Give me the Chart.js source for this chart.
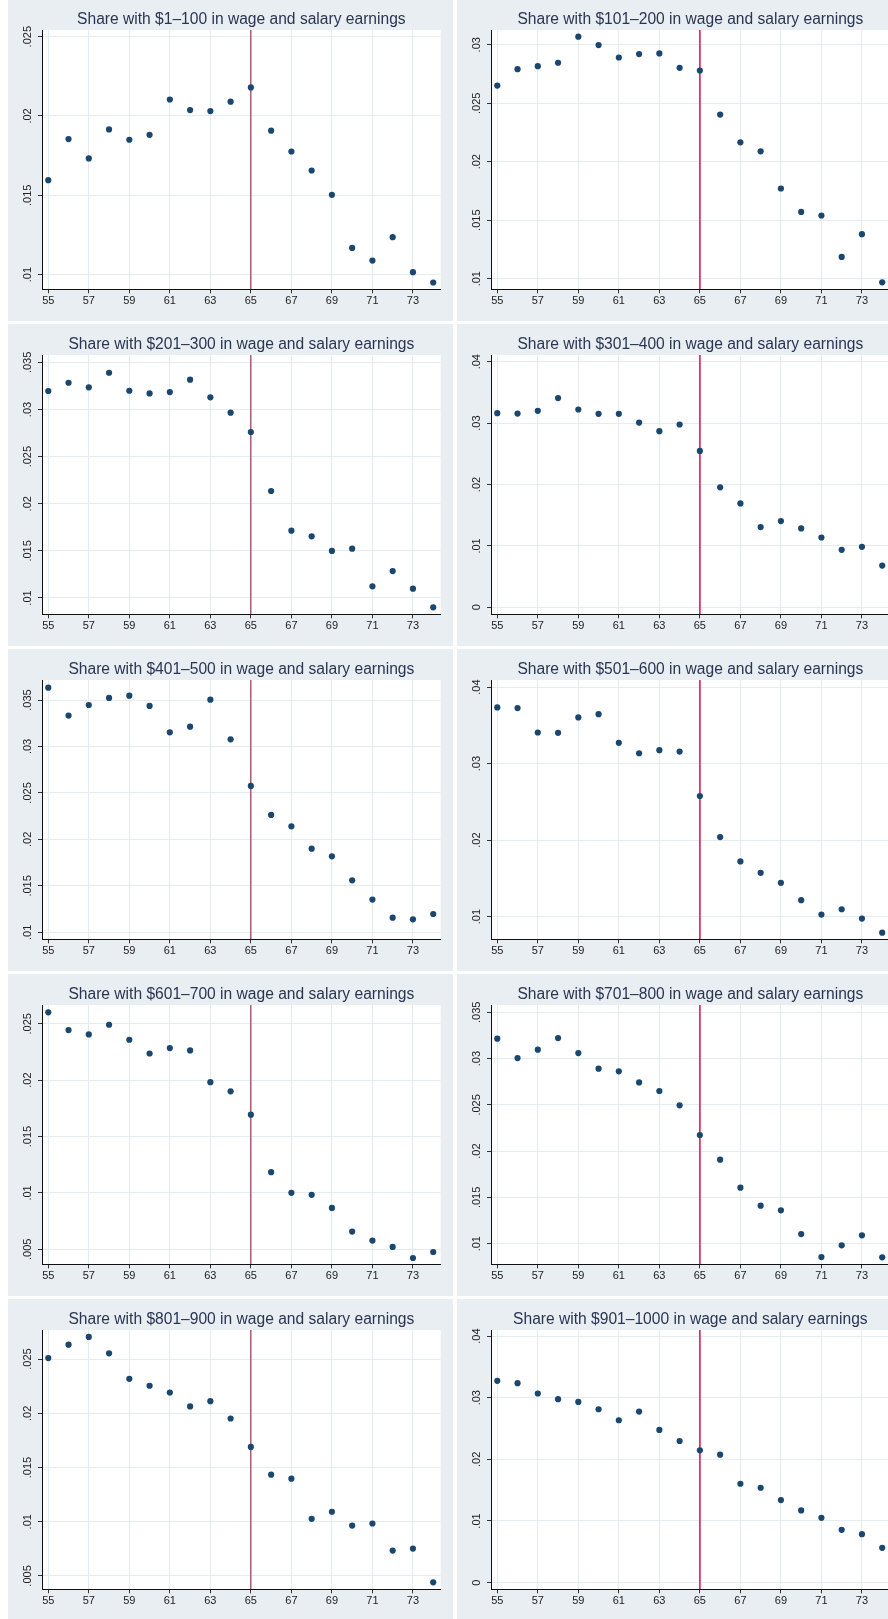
<!DOCTYPE html>
<html>
<head>
<meta charset="utf-8">
<script src="https://cdn.jsdelivr.net/npm/chart.js@4.4.1/dist/chart.umd.min.js"></script>
<style>
  html, body { margin: 0; padding: 0; background: #fff; overflow: hidden; width: 888px; height: 1619px; }
  .panel { position: absolute; width: 445px; height: 322px; background: #e8eef1; }
  .panel canvas { display: block; }
</style>
</head>
<body>
<script>
// Ages on the x axis and the odd-year tick labels
const ages = [55, 56, 57, 58, 59, 60, 61, 62, 63, 64, 65, 66, 67, 68, 69, 70, 71, 72, 73, 74];
const ageTicks = [55, 57, 59, 61, 63, 65, 67, 69, 71, 73];
const retirementAge = 65;

// Share of people in each earnings bin, by age
const share1to100   = [0.01595, 0.01854, 0.01732, 0.01915, 0.01850, 0.01881, 0.02104, 0.02037, 0.02031, 0.02090, 0.02180, 0.01907, 0.01776, 0.01656, 0.01503, 0.01168, 0.01088, 0.01236, 0.01015, 0.00950];
const share101to200 = [0.02651, 0.02791, 0.02817, 0.02846, 0.03069, 0.02997, 0.02891, 0.02920, 0.02926, 0.02803, 0.02780, 0.02403, 0.02166, 0.02089, 0.01771, 0.01571, 0.01540, 0.01186, 0.01380, 0.00969];
const share201to300 = [0.03196, 0.03284, 0.03235, 0.03390, 0.03199, 0.03171, 0.03185, 0.03316, 0.03129, 0.02966, 0.02761, 0.02135, 0.01714, 0.01654, 0.01499, 0.01523, 0.01124, 0.01286, 0.01099, 0.00901];
const share301to400 = [0.03162, 0.03156, 0.03200, 0.03407, 0.03222, 0.03151, 0.03151, 0.03009, 0.02868, 0.02977, 0.02547, 0.01954, 0.01692, 0.01306, 0.01404, 0.01284, 0.01137, 0.00936, 0.00985, 0.00680];
const share401to500 = [0.03633, 0.03332, 0.03446, 0.03522, 0.03547, 0.03436, 0.03152, 0.03213, 0.03504, 0.03077, 0.02575, 0.02263, 0.02141, 0.01900, 0.01818, 0.01560, 0.01352, 0.01158, 0.01140, 0.01197];
const share501to600 = [0.03734, 0.03725, 0.03406, 0.03402, 0.03603, 0.03646, 0.03271, 0.03135, 0.03175, 0.03157, 0.02576, 0.02039, 0.01721, 0.01572, 0.01441, 0.01214, 0.01026, 0.01096, 0.00974, 0.00790];
const share601to700 = [0.02601, 0.02444, 0.02405, 0.02491, 0.02358, 0.02236, 0.02284, 0.02263, 0.01982, 0.01901, 0.01694, 0.01184, 0.01001, 0.00983, 0.00867, 0.00657, 0.00577, 0.00521, 0.00423, 0.00476];
const share701to800 = [0.03215, 0.03006, 0.03096, 0.03222, 0.03060, 0.02891, 0.02862, 0.02743, 0.02650, 0.02495, 0.02174, 0.01908, 0.01605, 0.01411, 0.01360, 0.01104, 0.00856, 0.00982, 0.01090, 0.00852];
const share801to900 = [0.02509, 0.02633, 0.02704, 0.02553, 0.02318, 0.02254, 0.02192, 0.02063, 0.02112, 0.01952, 0.01690, 0.01434, 0.01397, 0.01027, 0.01092, 0.00965, 0.00984, 0.00734, 0.00753, 0.00441];
const share901to1000 = [0.03274, 0.03236, 0.03068, 0.02976, 0.02932, 0.02813, 0.02634, 0.02775, 0.02477, 0.02298, 0.02146, 0.02076, 0.01604, 0.01539, 0.01339, 0.01171, 0.01051, 0.00856, 0.00786, 0.00564];

const panelTitles = [
  'Share with $1–100 in wage and salary earnings',
  'Share with $101–200 in wage and salary earnings',
  'Share with $201–300 in wage and salary earnings',
  'Share with $301–400 in wage and salary earnings',
  'Share with $401–500 in wage and salary earnings',
  'Share with $501–600 in wage and salary earnings',
  'Share with $601–700 in wage and salary earnings',
  'Share with $701–800 in wage and salary earnings',
  'Share with $801–900 in wage and salary earnings',
  'Share with $901–1000 in wage and salary earnings'
];

const panelSeries = [share1to100, share101to200, share201to300, share301to400, share401to500,
                     share501to600, share601to700, share701to800, share801to900, share901to1000];

// y tick labels per panel
const panelYTicks = [
  [0.01, 0.015, 0.02, 0.025],
  [0.01, 0.015, 0.02, 0.025, 0.03],
  [0.01, 0.015, 0.02, 0.025, 0.03, 0.035],
  [0, 0.01, 0.02, 0.03, 0.04],
  [0.01, 0.015, 0.02, 0.025, 0.03, 0.035],
  [0.01, 0.02, 0.03, 0.04],
  [0.005, 0.01, 0.015, 0.02, 0.025],
  [0.01, 0.015, 0.02, 0.025, 0.03, 0.035],
  [0.005, 0.01, 0.015, 0.02, 0.025],
  [0, 0.01, 0.02, 0.03, 0.04]
];

// y axis limits per panel
const panelYRange = [
  [0.00907, 0.02542],
  [0.00909, 0.03126],
  [0.00827, 0.03578],
  [-0.00114, 0.04109],
  [0.00925, 0.03715],
  [0.00703, 0.04092],
  [0.00367, 0.02666],
  [0.00777, 0.03579],
  [0.00377, 0.02768],
  [-0.00108, 0.04098]
];

const xRange = [54.69, 74.37];

// Styles
const fontFamily = "'Liberation Sans', Arial, Helvetica, sans-serif";
const markerColor = '#1a476f';
const titleColor = '#2a3552';
const gridColor = '#e5ecef';
const tickFont = { family: fontFamily, size: 11 };

Chart.defaults.font.family = fontFamily;
Chart.defaults.color = '#222';

function formatShare(v) {
  if (Math.abs(v) < 1e-9) return '0';
  return v.toFixed(3).replace(/0+$/, '').replace(/^0/, '');
}

// width of the widest y label, needed to center the rotated labels
const measureCtx = document.createElement('canvas').getContext('2d');
function widestLabel(ticks) {
  measureCtx.font = tickFont.size + 'px ' + fontFamily;
  return Math.max(...ticks.map(t => measureCtx.measureText(formatShare(t)).width));
}

// fill the plot region white, like Stata's plotregion
const plotBackground = {
  id: 'plotBackground',
  beforeDraw(chart) {
    const { ctx, chartArea: a } = chart;
    ctx.save();
    ctx.fillStyle = '#fff';
    ctx.fillRect(a.left, a.top, a.right - a.left, a.bottom - a.top);
    ctx.restore();
  }
};

function createPanel(i) {
  const col = i % 2;
  const row = Math.floor(i / 2);

  const panel = document.createElement('div');
  panel.className = 'panel';
  panel.style.left = (col === 0 ? 8 : 457) + 'px';
  panel.style.top = (row * 325 - 1) + 'px';
  const canvas = document.createElement('canvas');
  canvas.width = 445;
  canvas.height = 322;
  panel.appendChild(canvas);
  document.body.appendChild(panel);

  const yTicks = panelYTicks[i];
  const yRange = panelYRange[i];
  const labelPad = 10.3 - widestLabel(yTicks) / 2;

  new Chart(canvas, {
    type: 'scatter',
    data: {
      datasets: [{
        data: ages.map((a, k) => ({ x: a, y: panelSeries[i][k] })),
        backgroundColor: markerColor,
        borderColor: markerColor,
        borderWidth: 0,
        pointRadius: 3.1,
        pointHoverRadius: 3.1
      }, {
        type: 'line',
        data: [{ x: retirementAge, y: yRange[0] }, { x: retirementAge, y: yRange[1] }],
        borderColor: col === 0 ? '#8e0f33' : '#d8346a',
        borderWidth: col === 0 ? 1 : 1.8,
        pointRadius: 0,
        fill: false
      }]
    },
    options: {
      responsive: false,
      animation: false,
      devicePixelRatio: 1,
      layout: { padding: { left: 0, right: 12.3, top: 0, bottom: 0 } },
      scales: {
        x: {
          type: 'linear',
          min: xRange[0],
          max: xRange[1],
          afterBuildTicks: scale => { scale.ticks = ageTicks.map(v => ({ value: v })); },
          afterFit: scale => { scale.height = 31.7; },
          ticks: { font: tickFont, color: '#222', padding: 1, maxRotation: 0, autoSkip: false, callback: v => String(v) },
          grid: { color: gridColor, lineWidth: 1, tickLength: 4, tickColor: '#333', drawTicks: true },
          border: { display: true, color: '#111', width: 1 }
        },
        y: {
          type: 'linear',
          min: yRange[0],
          max: yRange[1],
          afterBuildTicks: scale => { scale.ticks = yTicks.map(v => ({ value: v })); },
          afterFit: scale => { scale.width = 34; },
          ticks: {
            font: tickFont, color: '#222', minRotation: 90, maxRotation: 90,
            crossAlign: 'center', padding: labelPad, autoSkip: false,
            callback: v => formatShare(v)
          },
          grid: { color: gridColor, lineWidth: 1, tickLength: 4, tickColor: '#333', drawTicks: true },
          border: { display: true, color: '#111', width: 1 }
        }
      },
      plugins: {
        legend: { display: false },
        tooltip: { enabled: false },
        title: {
          display: true,
          text: panelTitles[i],
          fullSize: false,
          color: titleColor,
          font: { family: fontFamily, size: 15.6, weight: 'normal', lineHeight: 1.2 },
          padding: { top: 11.5, bottom: 0.8 }
        }
      }
    },
    plugins: [plotBackground]
  });
}

panelTitles.forEach((t, i) => createPanel(i));
</script>
</body>
</html>
